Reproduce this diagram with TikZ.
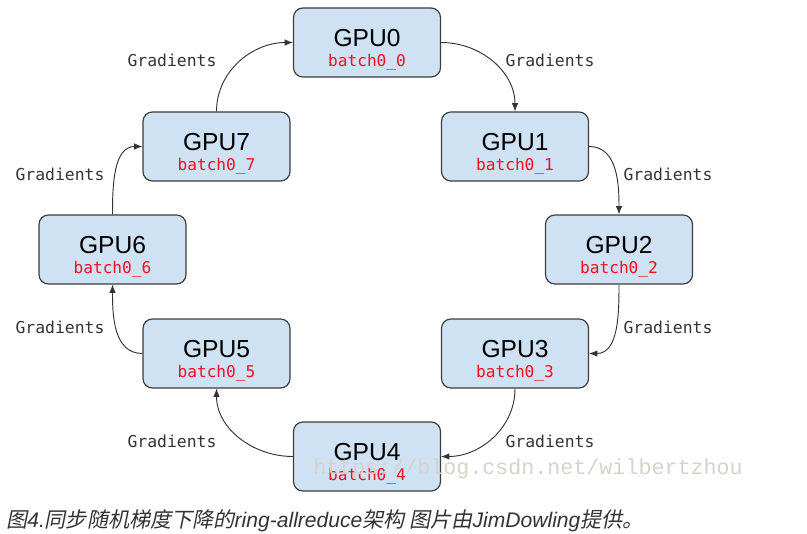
\documentclass[tikz,border=0pt]{standalone}
\usepackage{fontspec}
\setmainfont{Liberation Sans}
\newfontfamily\monofont{DejaVu Sans Mono}
\newfontfamily\markfont{Liberation Mono}
\newfontfamily\cjk[FakeSlant=0.2]{Noto Sans CJK SC}
\usetikzlibrary{arrows.meta}
\definecolor{boxblue}{HTML}{CFE2F3}
\definecolor{boxline}{HTML}{3C3C3C}
\definecolor{batchred}{HTML}{FF0A1E}
\definecolor{textgray}{HTML}{333333}
\definecolor{markgray}{HTML}{D6D2CC}
\tikzset{
	gpu/.style={shape=rectangle,draw=boxline,fill=boxblue,line width=1pt,rounded corners=8pt,minimum width=4.41cm,minimum height=2.07cm},
	gpulabel/.style={font=\fontsize{21}{24}\selectfont,text=black,inner sep=0pt},
	batchlabel/.style={font=\monofont\fontsize{13.8}{16}\selectfont,text=batchred,inner sep=0pt},
	gradlabel/.style={font=\monofont\fontsize{14}{16}\selectfont,text=textgray,inner sep=0pt},
	flow/.style={draw=textgray,line width=0.8pt,-{Latex[length=7pt,width=5.5pt]}}
}
\newcommand{\drawgpu}[3]{
	\node (#2) at #1 [gpu] {};
	\path (#2.center) ++(0,-4.5) node (#2name) [gpulabel] {GPU#3};
	\path (#2.center) ++(0,20) node (#2batch) [batchlabel] {batch0\_#3};
}

\begin{document}
\begin{tikzpicture}[x=0.03cm,y=-0.03cm]
	\useasboundingbox (0,0) rectangle (807,534);
	\drawgpu{(367,42.5)}{g0}{0}
	\drawgpu{(515,146.5)}{g1}{1}
	\drawgpu{(619,249.5)}{g2}{2}
	\drawgpu{(515,353.5)}{g3}{3}
	\drawgpu{(367,456.5)}{g4}{4}
	\drawgpu{(216.5,353.5)}{g5}{5}
	\drawgpu{(112.5,249.5)}{g6}{6}
	\drawgpu{(216.5,146.5)}{g7}{7}
	% ring of gradients, clockwise
	\draw[flow] (g0.east) to[out=0,in=90] (g1.north);
	\draw[flow] (g1.east) to[out=0,in=90] (g2.north);
	\draw[flow] (g2.south) to[out=-90,in=0] (g3.east);
	\draw[flow] (g3.south) to[out=-90,in=0] (g4.east);
	\draw[flow] (g4.west) to[out=180,in=-90] (g5.south);
	\draw[flow] (g5.west) to[out=180,in=-90] (g6.south);
	\draw[flow] (g6.north) to[out=90,in=180] (g7.west);
	\draw[flow] (g7.north) to[out=90,in=180] (g0.west);
	\node (gr01) at (550,60) [gradlabel] {Gradients};
	\node (gr12) at (668,174) [gradlabel] {Gradients};
	\node (gr23) at (668,327) [gradlabel] {Gradients};
	\node (gr34) at (550,441) [gradlabel] {Gradients};
	\node (gr45) at (172,441) [gradlabel] {Gradients};
	\node (gr56) at (60,327) [gradlabel] {Gradients};
	\node (gr67) at (60,174) [gradlabel] {Gradients};
	\node (gr70) at (172,60) [gradlabel] {Gradients};
	% watermark and caption
	\node (mark) at (528,469) [font=\markfont\fontsize{18.5}{20}\selectfont,text=markgray,inner sep=0pt] {https://blog.csdn.net/wilbertzhou};
	\node (caption) at (6,521) [anchor=west,font=\fontsize{18}{21}\selectfont\itshape,text=textgray,inner sep=0pt] {{\cjk 图}4.{\cjk 同步随机梯度下降的}ring-allreduce{\cjk 架构 图片由}JimDowling{\cjk 提供。}};
\end{tikzpicture}
\end{document}
